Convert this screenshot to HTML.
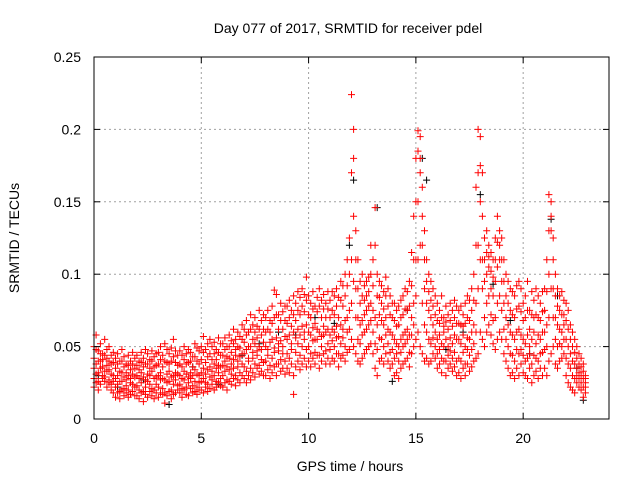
<!DOCTYPE html>
<html><head><meta charset="utf-8"><style>
html,body{margin:0;padding:0;background:#fff;}
svg{display:block;font-family:"Liberation Sans",sans-serif;}
</style></head><body>
<svg id="chart" width="640" height="480" viewBox="0 0 640 480" xmlns="http://www.w3.org/2000/svg">
<rect width="640" height="480" fill="#fff"/>
<g id="grid"></g>
<g id="pts"></g>
<rect x="94" y="57" width="515" height="362" fill="none" stroke="#000" stroke-width="1"/>
<g id="ticks"></g>
<text x="348" y="33" font-size="14" text-anchor="middle">Day 077 of 2017, SRMTID for receiver pdel</text>
<text x="350" y="471" font-size="14" text-anchor="middle">GPS time / hours</text>
<text transform="translate(19,238) rotate(-90)" font-size="14" text-anchor="middle">SRMTID / TECUs</text>
</svg>
<script>
const xTicks=[0,5,10,15,20];
const yTicks=[0,0.05,0.1,0.15,0.2,0.25];
const yTickLabels=["0","0.05","0.1","0.15","0.2","0.25"];
const hours=[
0.0,0.1,0.2,0.3,0.4,0.5,0.6,0.7,0.8,0.9,1.0,1.1,1.2,1.3,1.4,1.5,1.6,1.7,1.8,1.9,
2.0,2.1,2.2,2.3,2.4,2.5,2.6,2.7,2.8,2.9,3.0,3.1,3.2,3.3,3.4,3.5,3.6,3.7,3.8,3.9,
4.0,4.1,4.2,4.3,4.4,4.5,4.6,4.7,4.8,4.9,5.0,5.1,5.2,5.3,5.4,5.5,5.6,5.7,5.8,5.9,
6.0,6.1,6.2,6.3,6.4,6.5,6.6,6.7,6.8,6.9,7.0,7.1,7.2,7.3,7.4,7.5,7.6,7.7,7.8,7.9,
8.0,8.1,8.2,8.3,8.4,8.5,8.6,8.7,8.8,8.9,9.0,9.1,9.2,9.3,9.4,9.5,9.6,9.7,9.8,9.9,
10.0,10.1,10.2,10.3,10.4,10.5,10.6,10.7,10.8,10.9,11.0,11.1,11.2,11.3,11.4,11.5,11.6,11.7,11.8,11.9,
12.0,12.1,12.2,12.3,12.4,12.5,12.6,12.7,12.8,12.9,13.0,13.1,13.2,13.3,13.4,13.5,13.6,13.7,13.8,13.9,
14.0,14.1,14.2,14.3,14.4,14.5,14.6,14.7,14.8,14.9,15.0,15.1,15.2,15.3,15.4,15.5,15.6,15.7,15.8,15.9,
16.0,16.1,16.2,16.3,16.4,16.5,16.6,16.7,16.8,16.9,17.0,17.1,17.2,17.3,17.4,17.5,17.6,17.7,17.8,17.9,
18.0,18.1,18.2,18.3,18.4,18.5,18.6,18.7,18.8,18.9,19.0,19.1,19.2,19.3,19.4,19.5,19.6,19.7,19.8,19.9,
20.0,20.1,20.2,20.3,20.4,20.5,20.6,20.7,20.8,20.9,21.0,21.1,21.2,21.3,21.4,21.5,21.6,21.7,21.8,21.9,
22.0,22.1,22.2,22.3,22.4,22.5,22.6,22.7,22.8,22.9];
// values in thousandths of TECU
const lowMilli=[
22,25,20,24,28,26,22,25,20,18,15,18,14,20,16,18,15,17,19,16,
16,14,18,12,17,15,19,16,14,18,15,18,17,11,16,19,14,17,18,20,
18,15,20,17,16,21,18,19,17,20,20,18,22,19,21,24,20,22,25,23,
22,25,20,26,24,28,23,27,25,30,28,25,30,27,32,29,35,31,33,30,
30,34,28,32,36,30,38,33,35,31,35,32,38,17,36,40,34,38,42,36,
40,36,42,38,44,35,40,45,38,42,38,42,40,45,36,42,44,40,46,48,
55,50,45,40,38,42,45,48,50,52,45,35,30,40,42,38,45,40,35,38,
30,32,28,35,38,40,42,36,45,50,55,60,50,45,40,42,38,40,45,42,
35,38,32,40,30,35,38,33,36,30,32,28,35,30,38,33,36,40,42,45,
60,55,50,60,65,58,52,48,55,60,55,45,40,35,30,32,28,35,30,38,
32,30,28,35,25,30,33,28,35,30,35,30,40,45,50,38,35,40,42,45,
30,25,22,20,18,25,22,20,15,18];
const lowerMidMilli=[
28,31,26,35,30,29,33,27,24,26,22,24,19,26,21,23,20,25,24,22,
23,20,25,19,22,26,24,21,20,24,22,27,21,18,25,26,20,24,27,23,
24,21,27,22,25,28,23,26,22,25,26,28,25,24,29,27,30,26,32,28,
30,33,27,34,31,35,30,36,32,38,36,33,40,35,42,38,44,37,41,39,
40,44,37,42,46,38,47,41,45,40,45,42,48,30,46,52,44,50,55,48,
50,45,54,46,55,44,50,58,47,52,48,54,50,56,45,52,56,50,60,62,
80,95,70,55,52,58,60,62,65,68,60,52,48,56,55,50,58,52,46,48,
42,45,40,46,50,52,55,46,58,65,85,110,120,80,65,60,55,52,56,50,
45,48,42,50,40,44,47,42,46,40,42,40,46,38,48,44,48,52,60,90,
110,90,70,80,85,72,68,70,80,85,75,62,55,50,45,44,40,48,45,48,
44,40,42,45,38,44,42,40,45,46,48,50,70,90,70,55,50,52,50,55,
42,38,35,30,28,30,28,25,22,22];
const midMilli=[
35,38,32,40,36,33,37,34,31,30,28,30,26,32,29,27,30,28,31,29,
30,28,32,29,27,31,30,33,28,29,30,32,28,27,31,33,29,30,32,31,
30,28,33,31,29,32,30,34,31,30,32,35,31,34,36,33,38,35,37,36,
37,40,36,42,38,41,44,40,43,45,45,48,42,50,46,52,47,50,48,53,
50,48,53,55,49,56,52,54,50,57,55,58,52,60,56,62,58,64,60,65,
60,58,63,55,62,60,57,64,60,62,58,62,60,64,57,65,62,68,70,75,
110,140,90,70,65,68,72,75,78,80,75,70,65,72,68,65,70,62,60,58,
55,52,50,55,58,60,62,58,70,80,110,150,170,120,90,80,75,70,65,60,
55,58,52,60,55,50,56,52,58,55,55,52,58,50,56,55,60,65,80,120,
150,110,95,100,105,90,85,95,105,110,95,80,70,65,60,58,55,60,62,58,
55,52,58,50,55,60,52,58,55,60,60,65,100,130,90,70,65,62,60,65,
55,50,45,40,38,35,32,30,28,25];
const upperMidMilli=[
42,48,40,45,41,44,42,40,38,39,35,38,33,40,36,32,37,34,38,35,
37,34,39,36,38,38,35,40,36,37,38,41,36,40,39,38,40,43,39,37,
38,36,41,38,39,40,36,43,40,38,41,46,39,43,45,41,45,41,46,44,
44,48,43,50,46,52,48,50,49,55,53,58,50,62,55,60,56,62,58,62,
60,62,60,66,70,72,62,68,62,68,66,70,64,72,68,75,72,78,74,82,
72,70,76,66,74,78,70,76,70,76,70,75,72,78,70,82,78,85,92,100,
170,180,110,90,80,85,82,85,88,100,92,120,85,84,80,76,85,78,72,70,
68,64,65,70,72,76,75,78,92,110,150,185,180,140,110,95,88,82,78,72,
68,66,70,64,67,62,68,64,70,66,66,65,64,66,70,68,75,82,120,170,
175,140,110,115,112,102,98,110,122,120,110,95,85,80,75,72,70,76,78,74,
68,70,75,62,72,70,72,70,68,74,75,88,130,140,110,85,78,75,72,72,
68,62,55,50,46,42,38,36,33,28];
const highMilli=[
50,58,47,52,45,55,48,50,44,46,42,45,40,48,43,38,44,40,46,42,
44,40,46,42,48,45,41,47,43,45,46,50,44,52,48,45,49,55,47,44,
47,44,50,45,48,46,43,52,49,47,50,57,48,52,55,50,53,48,56,52,
52,56,50,58,54,62,55,60,57,65,62,68,60,72,65,70,64,75,68,72,
70,75,68,78,89,86,72,80,74,78,78,82,75,85,80,88,84,90,86,98,
85,80,88,78,84,90,82,86,80,88,82,88,85,90,84,95,92,100,110,125,
224,200,130,110,95,100,92,95,98,120,110,146,100,95,92,88,98,90,85,80,
80,75,78,82,85,90,88,95,115,140,180,199,195,160,130,110,100,95,90,85,
80,75,85,70,78,72,80,75,82,78,75,78,72,80,85,82,90,100,160,200,
195,170,125,130,120,115,110,125,140,130,125,110,100,95,90,88,85,92,95,90,
80,85,95,75,88,82,90,85,80,88,90,110,155,150,125,100,90,85,88,82,
80,75,65,60,55,50,45,42,38,30];
const blackHours=[0.2,1.1,2.3,3.5,4.6,5.8,6.9,7.7,8.6,9.4,10.3,11.2,11.9,12.1,13.2,13.9,14.6,15.3,15.5,16.4,17.2,18.0,18.6,19.4,20.3,21.3,21.6,22.5,22.8];
const blackMilli=[30,22,27,10,36,24,44,52,60,58,70,66,120,165,146,26,75,180,165,48,60,155,93,68,45,138,85,35,13];

const X=h=>94+h*(515/24);
const Y=v=>419-v*(362/0.25);
const NS="http://www.w3.org/2000/svg";
const grid=document.getElementById('grid'),ticks=document.getElementById('ticks'),pts=document.getElementById('pts');
function mk(tag,attrs,parent){const e=document.createElementNS(NS,tag);for(const k in attrs)e.setAttribute(k,attrs[k]);parent.appendChild(e);return e;}
xTicks.forEach(t=>{
  const x=X(t);
  if(t>0){const g=mk('line',{x1:x,y1:57,x2:x,y2:419,stroke:'#a0a0a0','stroke-dasharray':'2,3'},grid);
  
  }
  mk('line',{x1:x,y1:419,x2:x,y2:413,stroke:'#000'},ticks);
  mk('line',{x1:x,y1:57,x2:x,y2:63,stroke:'#000'},ticks);
  const l=mk('text',{x:x,y:443,'font-size':14,'text-anchor':'middle'},ticks);
  l.textContent=String(t);
  
  
});
yTicks.forEach((t,i)=>{
  const y=Y(t);
  if(t>0&&t<0.25){const g=mk('line',{x1:94,y1:y,x2:609,y2:y,stroke:'#a0a0a0','stroke-dasharray':'2,3'},grid);
  
  }
  mk('line',{x1:94,y1:y,x2:100,y2:y,stroke:'#000'},ticks);
  mk('line',{x1:609,y1:y,x2:603,y2:y,stroke:'#000'},ticks);
  const l=mk('text',{x:81,y:y+5,'font-size':14,'text-anchor':'end'},ticks);
  l.textContent=yTickLabels[i];
  
  
});
function plus(h,m){const x=X(h),y=Y(m/1000);return `M${(x-3.5).toFixed(1)} ${y.toFixed(1)}h7M${x.toFixed(1)} ${(y-3.5).toFixed(1)}v7`;}
let bd='';blackHours.forEach((h,i)=>{bd+=plus(h,blackMilli[i]);});
const bp=mk('path',{d:bd,stroke:'#000','stroke-width':1,fill:'none'},pts);


let rd='';
hours.forEach((h,i)=>{rd+=plus(h,lowMilli[i])+plus(h,lowerMidMilli[i])+plus(h,midMilli[i])+plus(h,upperMidMilli[i])+plus(h,highMilli[i]);});
const rp=mk('path',{d:rd,stroke:'#ff0000','stroke-width':1,fill:'none'},pts);


</script>
</body></html>
